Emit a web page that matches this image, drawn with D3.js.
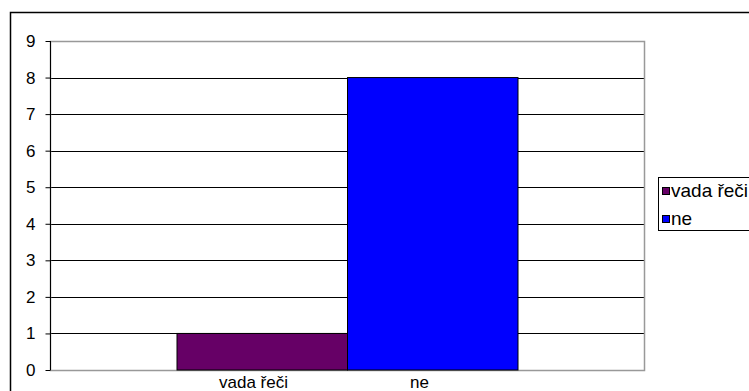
<!DOCTYPE html>
<html>
<head>
<meta charset="utf-8">
<script src="https://d3js.org/d3.v7.min.js"></script>
<style>
  html, body { margin: 0; padding: 0; background: #fff; }
  svg { display: block; font-family: "Liberation Sans", Arial, sans-serif; }
</style>
</head>
<body>
<svg id="chart" width="749" height="391"></svg>
<script>
// Series (one bar per series) and their values
const seriesNames = ["vada řeči", "ne"];
const seriesValues = [1, 8];
const seriesColors = ["#660066", "#0000FF"];
// Value axis ticks
const yTicks = [0, 1, 2, 3, 4, 5, 6, 7, 8, 9];
// Category labels along the bottom
const categoryLabels = ["vada řeči", "ne"];

const FONT = 17;
const LEGEND_FONT = 19;
const svg = d3.select("#chart");

// Outer chart frame
svg.append("rect")
  .attr("x", 10.5).attr("y", 12.5)
  .attr("width", 760).attr("height", 400)
  .attr("fill", "#fff").attr("stroke", "#000").attr("stroke-width", 1.5);

const plot = { left: 50, right: 644, top: 41, bottom: 370 };

const y = d3.scaleLinear().domain([0, 9]).range([plot.bottom, plot.top]);
const x = d3.scaleBand().domain(seriesNames).range([177, 518]).paddingInner(0).paddingOuter(0);
// positions of the category labels under the plot
const xLabel = d3.scalePoint().domain(categoryLabels).range([253.5, 419.5]);

// Gridlines
svg.append("g")
  .selectAll("line")
  .data(yTicks.filter(d => d > 0 && d < 9))
  .join("line")
  .attr("x1", plot.left).attr("x2", plot.right)
  .attr("y1", d => Math.round(y(d)) + 0.5).attr("y2", d => Math.round(y(d)) + 0.5)
  .attr("stroke", "#000").attr("stroke-width", 1);

// Plot area border (grey)
svg.append("rect")
  .attr("x", plot.left + 0.5).attr("y", Math.round(y(9)) + 0.5)
  .attr("width", plot.right - plot.left)
  .attr("height", Math.round(y(0)) - Math.round(y(9)))
  .attr("fill", "none").attr("stroke", "#999").attr("stroke-width", 1.5);

// Bars
svg.append("g")
  .selectAll("rect")
  .data(seriesNames.map((n, i) => ({ name: n, value: seriesValues[i], color: seriesColors[i] })))
  .join("rect")
  .attr("x", d => x(d.name))
  .attr("y", d => y(d.value))
  .attr("width", x.bandwidth())
  .attr("height", d => y(0) - y(d.value))
  .attr("fill", d => d.color)
  .attr("stroke", "#000").attr("stroke-width", 1);

// Value axis
const yAxis = d3.axisLeft(y).tickValues(yTicks).tickSize(5).tickPadding(10).tickFormat(d3.format("d"));
const gy = svg.append("g")
  .attr("transform", `translate(${plot.left + 0.5},0)`)
  .call(yAxis)
  .attr("font-size", FONT)
  .attr("font-family", "Liberation Sans, Arial, sans-serif");
gy.select(".domain").attr("stroke", "#000").attr("d", `M0,${y(9)}V${y(0)}`);
gy.selectAll(".tick line").attr("stroke", "#000");
gy.selectAll(".tick text").attr("fill", "#000");

// Category labels
svg.append("g")
  .selectAll("text")
  .data(categoryLabels)
  .join("text")
  .attr("x", d => xLabel(d))
  .attr("y", 388)
  .attr("text-anchor", "middle")
  .attr("font-size", FONT)
  .attr("fill", "#000")
  .text(d => d);

// Legend
const legend = svg.append("g");
legend.append("rect")
  .attr("x", 658.5).attr("y", 177.5)
  .attr("width", 100).attr("height", 53)
  .attr("fill", "#fff").attr("stroke", "#000").attr("stroke-width", 1);
const items = legend.selectAll("g.item")
  .data(seriesNames.map((n, i) => ({ name: n, color: seriesColors[i] })))
  .join("g")
  .attr("class", "item")
  .attr("transform", (d, i) => `translate(662,${187 + i * 28})`);
items.append("rect")
  .attr("x", 0.5).attr("y", 0.5)
  .attr("width", 7).attr("height", 7)
  .attr("fill", d => d.color)
  .attr("stroke", "#000").attr("stroke-width", 1);
items.append("text")
  .attr("x", 9).attr("y", 10)
  .attr("font-size", LEGEND_FONT)
  .attr("fill", "#000")
  .text(d => d.name);
</script>
</body>
</html>
